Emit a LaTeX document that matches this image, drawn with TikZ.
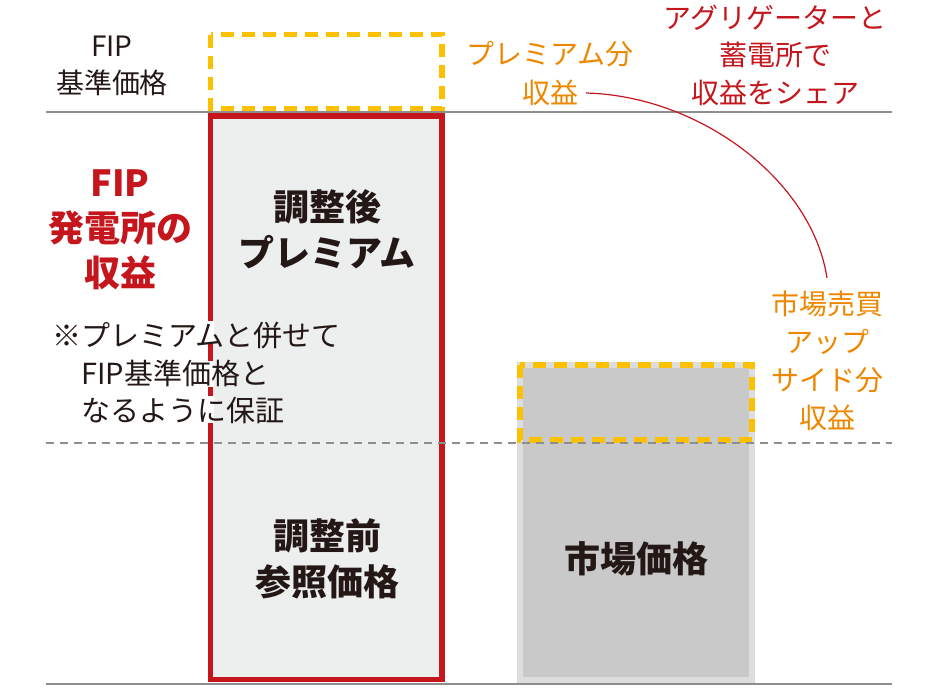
\documentclass[tikz,border=0pt]{standalone}
\usepackage{fontspec}
\setmainfont{Noto Sans CJK JP}
\definecolor{txtblack}{HTML}{231815}
\definecolor{fipred}{HTML}{C4161C}
\definecolor{orng}{HTML}{EE8700}
\definecolor{ylw}{HTML}{FBC100}
\definecolor{lgrey}{HTML}{8E8E8E}
\definecolor{boxfill}{HTML}{EDEEEE}
\definecolor{mktfill}{HTML}{C9C9C9}
\definecolor{mktedge}{HTML}{DCDDDD}
\tikzset{
  ydash/.style={draw=ylw, line width=5.5pt, dash pattern=on 13pt off 8pt},
  gline/.style={draw=lgrey, line width=2pt},
  gdash/.style={draw=lgrey, line width=2pt, dash pattern=on 8pt off 6pt},
  halo/.style={fill=white, draw=none},
  bodytxt/.style={text=txtblack, align=center, inner sep=0pt, font=\fontsize{28}{37}\selectfont},
  redhead/.style={text=fipred, align=center, inner sep=0pt, font=\fontsize{36}{45}\selectfont\bfseries},
  boxtxt/.style={text=txtblack, align=center, inner sep=0pt, font=\fontsize{36}{46.5}\selectfont\bfseries},
  orngtxt/.style={text=orng, align=center, inner sep=0pt, font=\fontsize{28}{38}\selectfont},
  redtxt/.style={text=fipred, align=center, inner sep=0pt, font=\fontsize{28}{37.5}\selectfont},
  notetxt/.style={text=txtblack, align=left, inner sep=0pt, font=\fontsize{29}{37.5}\selectfont},
}
\begin{document}
\begin{tikzpicture}[x=1pt,y=-1pt]
\useasboundingbox (0,0) rectangle (948,688);
% red FIP box
\draw[fipred, line width=5.5pt, fill=boxfill] (210.5,116) rectangle (442,679.5);
% market price box
\draw[mktedge, line width=6pt, fill=mktfill] (520,365) rectangle (752,680);
% yellow dashed boxes
\path[ydash] (210.5,34.5) rectangle (442,108.5);
\path[ydash] (520,365) rectangle (752,440);
% horizontal lines
\path[gline] (46,112) -- (892,112);
\path[gline] (46,684) -- (892,684);
\path[gdash] (46,443) -- (892,443);
% white halo where the note crosses the red line
\path[halo] (207.3,321) rectangle (213.7,342);
\path[halo] (207.3,361) rectangle (213.7,387);
\path[halo] (207.3,396) rectangle (213.7,423);
% texts
\node[bodytxt] (fiptop) at (112,66) {FIP\\基準価格};
\node[redhead] (fiprev) at (120,230) {FIP\\発電所の\\収益};
\node[boxtxt] (adjprem) at (327,229) {調整後\\プレミアム};
\node[boxtxt] (refprice) at (327,559) {調整前\\参照価格};
\node[boxtxt] (mktprice) at (636,559) {市場価格};
\node[notetxt, anchor=west] (note) at (52,373) {※プレミアムと併せて\\\hspace*{1em}FIP基準価格と\\\hspace*{1em}なるように保証};
\node[orngtxt] (premA) at (550,54) {プレミアム分};
\node[orngtxt] (premB) at (550,93) {収益};
\node[redtxt] (share) at (775,55) {アグリゲーターと\\蓄電所で\\収益をシェア};
\node[orngtxt, anchor=north, inner sep=0pt] (upside) at (827,290.5) {市場売買\\アップ\\サイド分\\収益};
% connector
\draw[fipred, line width=1.2pt] ([xshift=8pt]premB.east) .. controls (700,96) and (812,180) .. ([yshift=12.5pt]upside.north);
\end{tikzpicture}
\end{document}
